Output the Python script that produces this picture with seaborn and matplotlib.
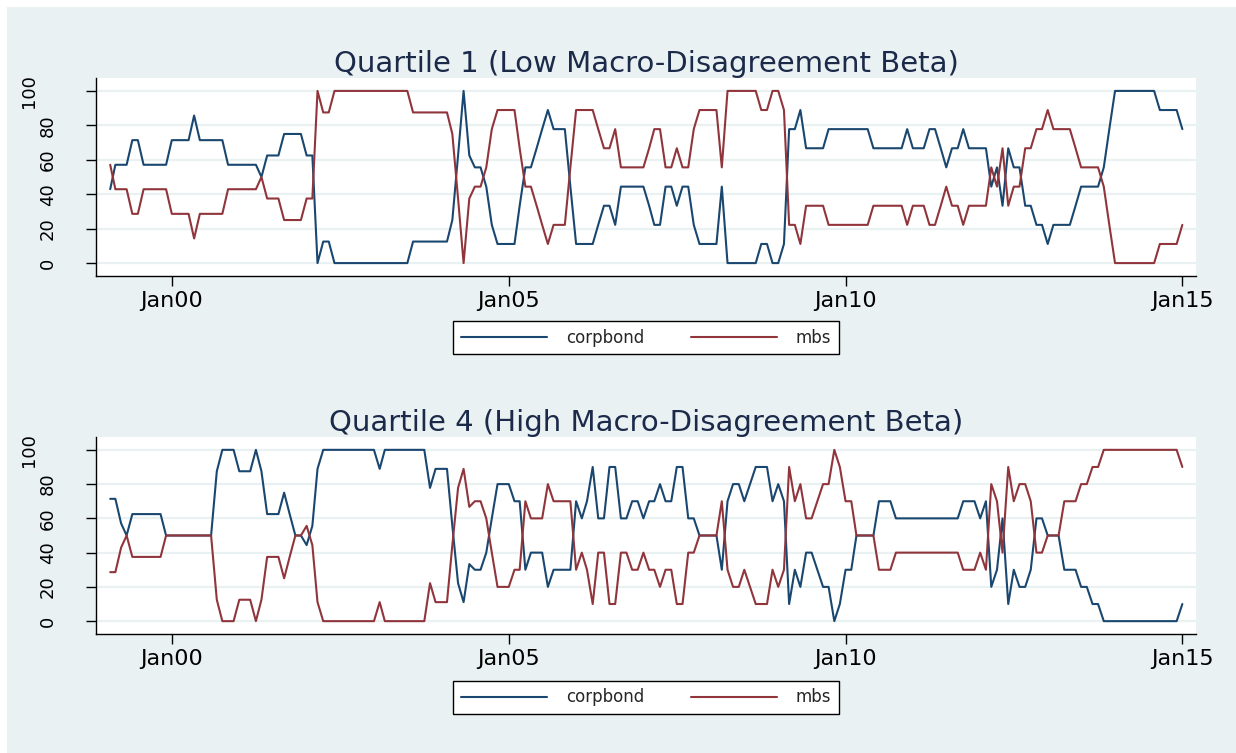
import matplotlib
matplotlib.use("Agg")
import matplotlib.pyplot as plt
import matplotlib.dates as mdates
from matplotlib.patches import Rectangle
import pandas as pd
import seaborn as sns

# monthly observations, Feb 1999 .. Jan 2015 (one row of 12 per line)
months = pd.date_range("1999-02-01", periods=192, freq="MS")

q1_corpbond = [
    42.9, 57.1, 57.1, 57.1, 71.4, 71.4, 57.1, 57.1, 57.1, 57.1, 57.1, 71.4,
    71.4, 71.4, 71.4, 85.7, 71.4, 71.4, 71.4, 71.4, 71.4, 57.1, 57.1, 57.1,
    57.1, 57.1, 57.1, 50.0, 62.5, 62.5, 62.5, 75.0, 75.0, 75.0, 75.0, 62.5,
    62.5, 0.0, 12.5, 12.5, 0.0, 0.0, 0.0, 0.0, 0.0, 0.0, 0.0, 0.0,
    0.0, 0.0, 0.0, 0.0, 0.0, 0.0, 12.5, 12.5, 12.5, 12.5, 12.5, 12.5,
    12.5, 25.0, 62.5, 100.0, 62.5, 55.6, 55.6, 44.4, 22.2, 11.1, 11.1, 11.1,
    11.1, 33.3, 55.6, 55.6, 66.7, 77.8, 88.9, 77.8, 77.8, 77.8, 44.4, 11.1,
    11.1, 11.1, 11.1, 22.2, 33.3, 33.3, 22.2, 44.4, 44.4, 44.4, 44.4, 44.4,
    33.3, 22.2, 22.2, 44.4, 44.4, 33.3, 44.4, 44.4, 22.2, 11.1, 11.1, 11.1,
    11.1, 44.4, 0.0, 0.0, 0.0, 0.0, 0.0, 0.0, 11.1, 11.1, 0.0, 0.0,
    11.1, 77.8, 77.8, 88.9, 66.7, 66.7, 66.7, 66.7, 77.8, 77.8, 77.8, 77.8,
    77.8, 77.8, 77.8, 77.8, 66.7, 66.7, 66.7, 66.7, 66.7, 66.7, 77.8, 66.7,
    66.7, 66.7, 77.8, 77.8, 66.7, 55.6, 66.7, 66.7, 77.8, 66.7, 66.7, 66.7,
    66.7, 44.4, 55.6, 33.3, 66.7, 55.6, 55.6, 33.3, 33.3, 22.2, 22.2, 11.1,
    22.2, 22.2, 22.2, 22.2, 33.3, 44.4, 44.4, 44.4, 44.4, 55.6, 77.8, 100.0,
    100.0, 100.0, 100.0, 100.0, 100.0, 100.0, 100.0, 88.9, 88.9, 88.9, 88.9, 77.8,
]
q1_mbs = [
    57.1, 42.9, 42.9, 42.9, 28.6, 28.6, 42.9, 42.9, 42.9, 42.9, 42.9, 28.6,
    28.6, 28.6, 28.6, 14.3, 28.6, 28.6, 28.6, 28.6, 28.6, 42.9, 42.9, 42.9,
    42.9, 42.9, 42.9, 50.0, 37.5, 37.5, 37.5, 25.0, 25.0, 25.0, 25.0, 37.5,
    37.5, 100.0, 87.5, 87.5, 100.0, 100.0, 100.0, 100.0, 100.0, 100.0, 100.0, 100.0,
    100.0, 100.0, 100.0, 100.0, 100.0, 100.0, 87.5, 87.5, 87.5, 87.5, 87.5, 87.5,
    87.5, 75.0, 37.5, 0.0, 37.5, 44.4, 44.4, 55.6, 77.8, 88.9, 88.9, 88.9,
    88.9, 66.7, 44.4, 44.4, 33.3, 22.2, 11.1, 22.2, 22.2, 22.2, 55.6, 88.9,
    88.9, 88.9, 88.9, 77.8, 66.7, 66.7, 77.8, 55.6, 55.6, 55.6, 55.6, 55.6,
    66.7, 77.8, 77.8, 55.6, 55.6, 66.7, 55.6, 55.6, 77.8, 88.9, 88.9, 88.9,
    88.9, 55.6, 100.0, 100.0, 100.0, 100.0, 100.0, 100.0, 88.9, 88.9, 100.0, 100.0,
    88.9, 22.2, 22.2, 11.1, 33.3, 33.3, 33.3, 33.3, 22.2, 22.2, 22.2, 22.2,
    22.2, 22.2, 22.2, 22.2, 33.3, 33.3, 33.3, 33.3, 33.3, 33.3, 22.2, 33.3,
    33.3, 33.3, 22.2, 22.2, 33.3, 44.4, 33.3, 33.3, 22.2, 33.3, 33.3, 33.3,
    33.3, 55.6, 44.4, 66.7, 33.3, 44.4, 44.4, 66.7, 66.7, 77.8, 77.8, 88.9,
    77.8, 77.8, 77.8, 77.8, 66.7, 55.6, 55.6, 55.6, 55.6, 44.4, 22.2, 0.0,
    0.0, 0.0, 0.0, 0.0, 0.0, 0.0, 0.0, 11.1, 11.1, 11.1, 11.1, 22.2,
]
q4_corpbond = [
    71.4, 71.4, 57.1, 50.0, 62.5, 62.5, 62.5, 62.5, 62.5, 62.5, 50.0, 50.0,
    50.0, 50.0, 50.0, 50.0, 50.0, 50.0, 50.0, 87.5, 100.0, 100.0, 100.0, 87.5,
    87.5, 87.5, 100.0, 87.5, 62.5, 62.5, 62.5, 75.0, 62.5, 50.0, 50.0, 44.4,
    55.6, 88.9, 100.0, 100.0, 100.0, 100.0, 100.0, 100.0, 100.0, 100.0, 100.0, 100.0,
    88.9, 100.0, 100.0, 100.0, 100.0, 100.0, 100.0, 100.0, 100.0, 77.8, 88.9, 88.9,
    88.9, 55.6, 22.2, 11.1, 33.3, 30.0, 30.0, 40.0, 60.0, 80.0, 80.0, 80.0,
    70.0, 70.0, 30.0, 40.0, 40.0, 40.0, 20.0, 30.0, 30.0, 30.0, 30.0, 70.0,
    60.0, 70.0, 90.0, 60.0, 60.0, 90.0, 90.0, 60.0, 60.0, 70.0, 70.0, 60.0,
    70.0, 70.0, 80.0, 70.0, 70.0, 90.0, 90.0, 60.0, 60.0, 50.0, 50.0, 50.0,
    50.0, 30.0, 70.0, 80.0, 80.0, 70.0, 80.0, 90.0, 90.0, 90.0, 70.0, 80.0,
    70.0, 10.0, 30.0, 20.0, 40.0, 40.0, 30.0, 20.0, 20.0, 0.0, 10.0, 30.0,
    30.0, 50.0, 50.0, 50.0, 50.0, 70.0, 70.0, 70.0, 60.0, 60.0, 60.0, 60.0,
    60.0, 60.0, 60.0, 60.0, 60.0, 60.0, 60.0, 60.0, 70.0, 70.0, 70.0, 60.0,
    70.0, 20.0, 30.0, 60.0, 10.0, 30.0, 20.0, 20.0, 30.0, 60.0, 60.0, 50.0,
    50.0, 50.0, 30.0, 30.0, 30.0, 20.0, 20.0, 10.0, 10.0, 0.0, 0.0, 0.0,
    0.0, 0.0, 0.0, 0.0, 0.0, 0.0, 0.0, 0.0, 0.0, 0.0, 0.0, 10.0,
]
q4_mbs = [
    28.6, 28.6, 42.9, 50.0, 37.5, 37.5, 37.5, 37.5, 37.5, 37.5, 50.0, 50.0,
    50.0, 50.0, 50.0, 50.0, 50.0, 50.0, 50.0, 12.5, 0.0, 0.0, 0.0, 12.5,
    12.5, 12.5, 0.0, 12.5, 37.5, 37.5, 37.5, 25.0, 37.5, 50.0, 50.0, 55.6,
    44.4, 11.1, 0.0, 0.0, 0.0, 0.0, 0.0, 0.0, 0.0, 0.0, 0.0, 0.0,
    11.1, 0.0, 0.0, 0.0, 0.0, 0.0, 0.0, 0.0, 0.0, 22.2, 11.1, 11.1,
    11.1, 44.4, 77.8, 88.9, 66.7, 70.0, 70.0, 60.0, 40.0, 20.0, 20.0, 20.0,
    30.0, 30.0, 70.0, 60.0, 60.0, 60.0, 80.0, 70.0, 70.0, 70.0, 70.0, 30.0,
    40.0, 30.0, 10.0, 40.0, 40.0, 10.0, 10.0, 40.0, 40.0, 30.0, 30.0, 40.0,
    30.0, 30.0, 20.0, 30.0, 30.0, 10.0, 10.0, 40.0, 40.0, 50.0, 50.0, 50.0,
    50.0, 70.0, 30.0, 20.0, 20.0, 30.0, 20.0, 10.0, 10.0, 10.0, 30.0, 20.0,
    30.0, 90.0, 70.0, 80.0, 60.0, 60.0, 70.0, 80.0, 80.0, 100.0, 90.0, 70.0,
    70.0, 50.0, 50.0, 50.0, 50.0, 30.0, 30.0, 30.0, 40.0, 40.0, 40.0, 40.0,
    40.0, 40.0, 40.0, 40.0, 40.0, 40.0, 40.0, 40.0, 30.0, 30.0, 30.0, 40.0,
    30.0, 80.0, 70.0, 40.0, 90.0, 70.0, 80.0, 80.0, 70.0, 40.0, 40.0, 50.0,
    50.0, 50.0, 70.0, 70.0, 70.0, 80.0, 80.0, 90.0, 90.0, 100.0, 100.0, 100.0,
    100.0, 100.0, 100.0, 100.0, 100.0, 100.0, 100.0, 100.0, 100.0, 100.0, 100.0, 90.0,
]

titles = ["Quartile 1 (Low Macro-Disagreement Beta)",
          "Quartile 4 (High Macro-Disagreement Beta)"]
y_ticks = [0, 20, 40, 60, 80, 100]
x_ticks = pd.to_datetime(["2000-01-01", "2005-01-01", "2010-01-01", "2015-01-01"])

BG = "#EAF1F3"
palette = {"corpbond": "#1a476f", "mbs": "#90353b"}

sns.set_theme(style="white")
plt.rcParams["font.family"] = ["DejaVu Sans"]

W, H = 1236, 753
fig = plt.figure(figsize=(W / 100, H / 100), dpi=100, facecolor="white")
fig.patches.append(Rectangle((7 / W, 0), 1, 1 - 7 / H, transform=fig.transFigure,
                             facecolor=BG, edgecolor="none", zorder=-10))

# panel boxes in pixels: (top, bottom), legend centre y
panels = [
    (q1_corpbond, q1_mbs, 78, 276, 337.5),
    (q4_corpbond, q4_mbs, 437, 634, 697.5),
]
left_px, right_px = 96, 1196

for (corp, mbs, top, bot, leg_y), title in zip(panels, titles):
    ax = fig.add_axes([left_px / W, 1 - bot / H, (right_px - left_px) / W, (bot - top) / H])
    ax.set_facecolor("white")

    df = pd.DataFrame({"month": months, "corpbond": corp, "mbs": mbs})
    long = df.melt(id_vars="month", var_name="series", value_name="share")
    sns.lineplot(data=long, x="month", y="share", hue="series", palette=palette,
                 linewidth=1.5, ax=ax)

    ax.set_xlim(pd.Timestamp("1998-11-16"), pd.Timestamp("2015-03-16"))
    ax.set_ylim(-7.5, 107.5)
    ax.set_yticks(y_ticks)
    ax.set_xticks(x_ticks)
    ax.xaxis.set_major_formatter(mdates.DateFormatter("%b%y"))
    ax.set_xlabel("")
    ax.set_ylabel("")

    ax.yaxis.grid(True, color=BG, linewidth=1.6)
    ax.set_axisbelow(True)
    sns.despine(ax=ax)
    for side in ["left", "bottom"]:
        ax.spines[side].set_color("black")
        ax.spines[side].set_linewidth(1.0)

    ax.tick_params(axis="both", which="major", bottom=True, left=True,
                   length=7, width=1, color="black", labelcolor="black")
    ax.tick_params(axis="x", labelsize=16, pad=3.5)
    ax.tick_params(axis="y", labelsize=13, pad=21, labelrotation=90)
    yt = ax.yaxis.get_major_ticks()
    for tick in yt:
        tick.label1.set_verticalalignment("center")
    # the 3-digit label sits further out, as in the original
    yt[y_ticks.index(100)].label1.set_x(-19 / (right_px - left_px))

    ax.set_title(title, fontsize=21, color="#1c2a4a", pad=4)

    sns.move_legend(ax, loc="center", bbox_to_anchor=(646 / W, 1 - leg_y / H),
                    bbox_transform=fig.transFigure, ncol=2, title="",
                    frameon=True, fancybox=False, edgecolor="black", framealpha=1,
                    fontsize=12, handlelength=5.2, handletextpad=1.1,
                    columnspacing=2.8, borderpad=0.45)
    leg = ax.get_legend()
    leg.get_frame().set_linewidth(1.0)
    for line in leg.get_lines():
        line.set_linewidth(1.5)

fig.savefig("out.png", dpi=100, facecolor=fig.get_facecolor())
